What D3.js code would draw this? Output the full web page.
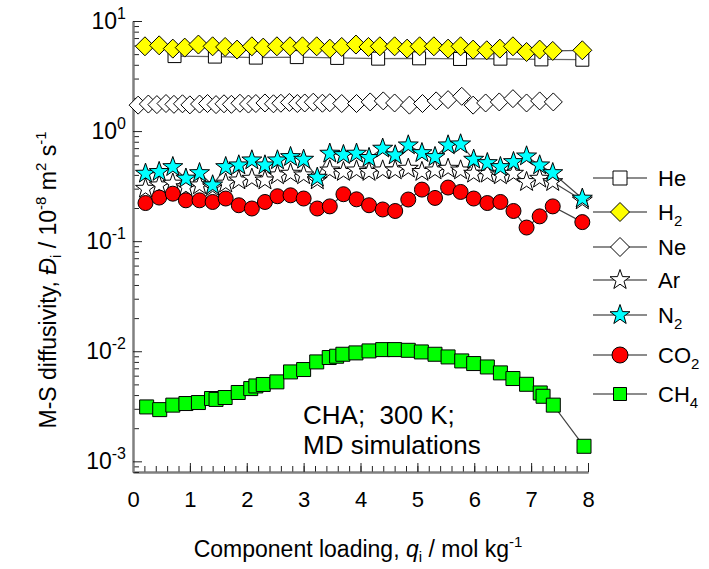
<!DOCTYPE html>
<html>
<head>
<meta charset="utf-8">
<script src="https://cdn.jsdelivr.net/npm/d3@7"></script>
<style>
  body { margin: 0; background: #fff; }
  svg text { font-family: "Liberation Sans", Arial, sans-serif; fill: #000; }
</style>
</head>
<body>
<svg id="chart"></svg>
<script>
// ---- data ----
const heLoading = [0.73, 1.44, 2.16, 2.88, 3.59, 4.31, 5.03, 5.75, 6.46, 7.18, 7.90];
const heDiff = [4.8, 4.75, 4.65, 4.7, 4.62, 4.55, 4.58, 4.52, 4.55, 4.48, 4.45];

const h2Loading = [0.21, 0.46, 0.70, 0.91, 1.15, 1.40, 1.62, 1.83, 2.09, 2.29, 2.53, 2.76, 2.98, 3.23, 3.46, 3.67,
  3.92, 4.14, 4.34, 4.60, 4.82, 5.04, 5.29, 5.54, 5.76, 5.98, 6.22, 6.45, 6.68, 6.92, 7.15, 7.38, 7.90];
const h2Diff = [5.89, 6.01, 5.61, 5.73, 6.11, 5.89, 5.81, 5.50, 5.89, 5.73, 5.89, 5.89, 5.89, 5.89, 5.61, 5.81,
  6.11, 5.81, 5.89, 5.89, 5.61, 5.89, 5.89, 5.61, 5.89, 5.50, 5.42, 5.61, 5.89, 5.23, 5.50, 5.35, 5.42];

const neLoading = [0.09, 0.27, 0.42, 0.58, 0.72, 0.87, 1.00, 1.17, 1.31, 1.46, 1.60, 1.73, 1.88, 2.03, 2.16, 2.32,
  2.47, 2.60, 2.75, 2.89, 3.02, 3.17, 3.33, 3.46, 3.67, 3.93, 4.17, 4.40, 4.60, 4.86, 5.09, 5.33, 5.54, 5.78,
  5.98, 6.20, 6.44, 6.68, 6.92, 7.15, 7.39];
const neDiff = [1.72, 1.76, 1.74, 1.78, 1.75, 1.77, 1.73, 1.76, 1.78, 1.74, 1.77, 1.75, 1.79, 1.76, 1.78, 1.80,
  1.77, 1.79, 1.82, 1.78, 1.80, 1.83, 1.79, 1.81, 1.78, 1.78, 1.84, 1.88, 1.80, 1.72, 1.78, 1.88, 1.93, 2.07,
  1.72, 1.80, 1.84, 1.97, 1.80, 1.88, 1.84];

// Ar, N2 and CO2 were run on the same loadings
const gridLoading = [0.22, 0.46, 0.70, 0.93, 1.17, 1.40, 1.63, 1.86, 2.09, 2.32, 2.54, 2.77, 3.00, 3.24, 3.46, 3.70,
  3.93, 4.15, 4.39, 4.61, 4.84, 5.08, 5.31, 5.54, 5.76, 5.99, 6.23, 6.46, 6.69, 6.92, 7.15, 7.38, 7.90];
const arDiff = [0.300, 0.322, 0.334, 0.310, 0.322, 0.310, 0.334, 0.357, 0.370, 0.357, 0.397, 0.411, 0.397, 0.357,
  0.440, 0.426, 0.440, 0.426, 0.440, 0.440, 0.456, 0.426, 0.440, 0.456, 0.440, 0.411, 0.411, 0.397, 0.411,
  0.345, 0.370, 0.345, 0.235];
const n2Diff = [0.411, 0.426, 0.472, 0.371, 0.416, 0.322, 0.472, 0.489, 0.543, 0.489, 0.543, 0.582, 0.551, 0.378,
  0.625, 0.607, 0.625, 0.571, 0.694, 0.603, 0.743, 0.632, 0.582, 0.743, 0.759, 0.551, 0.513, 0.472, 0.524,
  0.590, 0.489, 0.416, 0.244];
const co2Diff = [0.222, 0.249, 0.270, 0.235, 0.235, 0.227, 0.244, 0.212, 0.198, 0.227, 0.256, 0.261, 0.244, 0.198,
  0.207, 0.267, 0.240, 0.212, 0.194, 0.188, 0.239, 0.294, 0.247, 0.307, 0.280, 0.244, 0.222, 0.227, 0.188,
  0.133, 0.168, 0.207, 0.149];

const ch4Loading = [0.24, 0.47, 0.70, 0.93, 1.15, 1.38, 1.46, 1.62, 1.85, 2.07, 2.16, 2.29, 2.53, 2.77, 3.00, 3.23,
  3.45, 3.58, 3.69, 3.92, 4.15, 4.39, 4.60, 4.84, 5.07, 5.31, 5.54, 5.78, 5.99, 6.23, 6.46, 6.68, 6.92, 7.16,
  7.21, 7.39, 7.93];
const ch4Diff = [0.00312, 0.00295, 0.00324, 0.00335, 0.00342, 0.00372, 0.00365, 0.00380, 0.00422, 0.00458, 0.00484,
  0.00499, 0.00527, 0.00649, 0.00682, 0.00800, 0.00877, 0.00901, 0.00939, 0.00966, 0.01007, 0.01035, 0.01035,
  0.01020, 0.00986, 0.00939, 0.00888, 0.00817, 0.00773, 0.00720, 0.00636, 0.00565, 0.00501, 0.00418, 0.00390,
  0.00324, 0.00137];

const xTickValues = [0, 1, 2, 3, 4, 5, 6, 7, 8];
const yTickExponents = [-3, -2, -1, 0, 1];

// ---- layout ----
const width = 709, height = 569;
const margin = { top: 21, right: 121, bottom: 97, left: 133 };

const svg = d3.select('#chart').attr('width', width).attr('height', height);

const x = d3.scaleLinear().domain([0, 8]).range([margin.left, width - margin.right]);
const y = d3.scaleLog().domain([8e-4, 10]).range([height - margin.bottom, margin.top]);

function markerPath(kind, s) {
  if (kind === 'square') return `M${-s / 2},${-s / 2}h${s}v${s}h${-s}Z`;
  if (kind === 'diamond') return `M0,${-s}L${s},0L0,${s}L${-s},0Z`;
  if (kind === 'star') {
    let pts = [];
    for (let i = 0; i < 10; i++) {
      let r = i % 2 === 0 ? s : s * 0.4;
      let a = -Math.PI / 2 + i * Math.PI / 5;
      pts.push([r * Math.cos(a), r * Math.sin(a)]);
    }
    return 'M' + pts.map(p => p[0].toFixed(2) + ',' + p[1].toFixed(2)).join('L') + 'Z';
  }
  if (kind === 'circle') return d3.arc()({ innerRadius: 0, outerRadius: s, startAngle: 0, endAngle: 2 * Math.PI });
}

const series = [
  { name: 'He', sub: '', xs: heLoading, ys: heDiff, kind: 'square', size: 13, legSize: 14, fill: '#fff', line: '#666' },
  { name: 'H', sub: '2', xs: h2Loading, ys: h2Diff, kind: 'diamond', size: 9.5, legSize: 9.5, fill: '#ffff00', line: '#555' },
  { name: 'Ne', sub: '', xs: neLoading, ys: neDiff, kind: 'diamond', size: 9, legSize: 9.5, fill: '#fff', line: '#555' },
  { name: 'Ar', sub: '', xs: gridLoading, ys: arDiff, kind: 'star', size: 10.5, legSize: 10.5, fill: '#fff', line: '#444' },
  { name: 'N', sub: '2', xs: gridLoading, ys: n2Diff, kind: 'star', size: 10.5, legSize: 10.5, fill: '#00ffff', line: '#444' },
  { name: 'CO', sub: '2', xs: gridLoading, ys: co2Diff, kind: 'circle', size: 7.5, legSize: 8, fill: '#ff0000', line: '#444' },
  { name: 'CH', sub: '4', xs: ch4Loading, ys: ch4Diff, kind: 'square', size: 14, legSize: 13, fill: '#00ff00', line: '#444' }
];

// ---- axes ----
const xAxisG = svg.append('g')
  .attr('transform', `translate(0,${height - margin.bottom})`)
  .call(d3.axisBottom(x).tickValues(d3.range(0, 8.01, 0.2)).tickSizeInner(-6).tickSizeOuter(0).tickFormat(''));
xAxisG.append('g').call(d3.axisBottom(x).tickValues(xTickValues).tickSizeInner(-9).tickSizeOuter(0).tickPadding(19));
xAxisG.selectAll('.domain').attr('stroke', '#808080').attr('stroke-width', 2);
xAxisG.selectAll('.tick line').attr('stroke', '#222');
xAxisG.selectAll('.tick text').attr('font-size', 22).attr('font-family', null);

let minorY = [];
for (let e = -4; e <= 0; e++) {
  for (let k = 2; k <= 9; k++) {
    let v = k * Math.pow(10, e);
    if (v >= 8e-4 && v <= 10) minorY.push(v);
  }
}
const yAxisG = svg.append('g')
  .attr('transform', `translate(${margin.left},0)`)
  .call(d3.axisLeft(y).tickValues(minorY).tickSizeInner(-6).tickSizeOuter(0).tickFormat(''));
yAxisG.append('g')
  .call(d3.axisLeft(y).tickValues(yTickExponents.map(e => Math.pow(10, e))).tickSizeInner(-9).tickSizeOuter(0).tickFormat(''));
yAxisG.selectAll('.domain').attr('stroke', '#808080').attr('stroke-width', 2);
yAxisG.selectAll('.tick line').attr('stroke', '#222');

yTickExponents.forEach(e => {
  let t = svg.append('text')
    .attr('x', 126).attr('y', y(Math.pow(10, e)) + 8)
    .attr('text-anchor', 'end').attr('font-size', 23);
  t.append('tspan').text('10');
  t.append('tspan').attr('font-size', 16).attr('dy', -10).text(e);
});

// ---- series ----
const plot = svg.append('g');
series.forEach(s => {
  let pts = s.xs.map((v, i) => [v, s.ys[i]]);
  plot.append('path')
    .attr('d', d3.line().x(d => x(d[0])).y(d => y(d[1]))(pts))
    .attr('fill', 'none').attr('stroke', s.line).attr('stroke-width', 1.2);
  plot.selectAll(null).data(pts).join('path')
    .attr('transform', d => `translate(${x(d[0])},${y(d[1])})`)
    .attr('d', markerPath(s.kind, s.size))
    .attr('fill', s.fill).attr('stroke', '#000').attr('stroke-width', 1);
});

// ---- legend ----
const legendRowY = [178, 212, 247, 280, 315, 355, 394];
const legend = svg.append('g');
series.forEach((s, i) => {
  let g = legend.append('g').attr('transform', `translate(0,${legendRowY[i]})`);
  g.append('line').attr('x1', 593).attr('x2', 647).attr('stroke', '#666').attr('stroke-width', 1.5);
  g.append('path').attr('transform', 'translate(620,0)').attr('d', markerPath(s.kind, s.legSize))
    .attr('fill', s.fill).attr('stroke', '#000').attr('stroke-width', 1);
  let t = g.append('text').attr('x', 658).attr('y', 8).attr('font-size', 22);
  t.append('tspan').text(s.name);
  if (s.sub) t.append('tspan').attr('font-size', 15).attr('dy', 6).text(s.sub);
});

// ---- annotation ----
svg.append('text').attr('x', 303).attr('y', 424).attr('font-size', 26)
  .style('white-space', 'pre').text('CHA;  300 K;');
svg.append('text').attr('x', 303).attr('y', 454).attr('font-size', 26).text('MD simulations');

// ---- axis titles ----
const xt = svg.append('text').attr('x', 358).attr('y', 557)
  .attr('text-anchor', 'middle').attr('font-size', 23);
xt.append('tspan').text('Component loading, ');
xt.append('tspan').attr('font-style', 'italic').text('q');
xt.append('tspan').attr('font-size', 15).attr('dy', 5).text('i');
xt.append('tspan').attr('dy', -5).text(' / mol kg');
xt.append('tspan').attr('font-size', 15).attr('dy', -10).text('-1');

const yt = svg.append('text')
  .attr('transform', 'translate(56,280) rotate(-90)')
  .attr('text-anchor', 'middle').attr('font-size', 23)
  .style('white-space', 'pre');
yt.append('tspan').text('M-S diffusivity, ');
yt.append('tspan').attr('font-style', 'italic').text('Đ');
yt.append('tspan').attr('font-size', 15).attr('dy', 5).text('i');
yt.append('tspan').attr('dy', -5).text(' / 10');
yt.append('tspan').attr('font-size', 15).attr('dy', -10).text('-8');
yt.append('tspan').attr('dy', 10).text(' m');
yt.append('tspan').attr('font-size', 15).attr('dy', -10).text('2');
yt.append('tspan').attr('dy', 10).text(' s');
yt.append('tspan').attr('font-size', 15).attr('dy', -10).text('-1');
</script>
</body>
</html>
